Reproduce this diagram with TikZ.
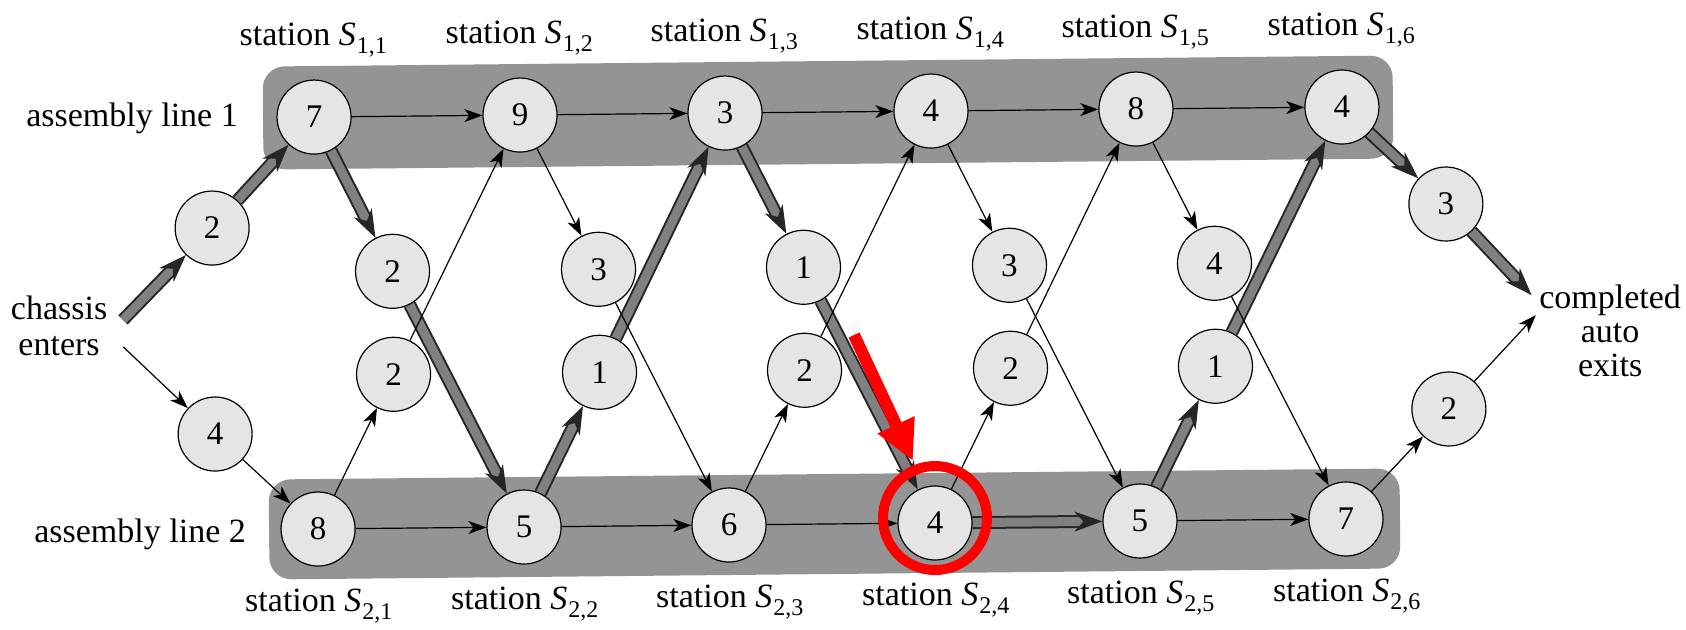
\documentclass[tikz,border=0pt]{standalone}
\usepackage{fontspec}
\setmainfont{Liberation Serif}
\usetikzlibrary{arrows.meta}
\pgfdeclarelayer{bg}
\pgfdeclarelayer{edges}
\pgfdeclarelayer{fg}
\pgfsetlayers{bg,edges,main,fg}
\newcommand{\stn}[2]{station \textit{S}\kern0.5pt\raisebox{-0.5ex}{\fontsize{12}{12}\selectfont #1,#2}}
\begin{document}
\begin{tikzpicture}[x=0.5pt,y=-0.5pt,
  num/.style={circle, draw, line width=0.6pt, fill=black!10, minimum size=37pt, inner sep=0pt, font=\rmfamily\fontsize{16.5}{18}\selectfont},
  lbl/.style={font=\rmfamily\fontsize{17}{20}\selectfont, inner sep=0pt},
  arr/.style={line width=0.6pt, -{Stealth[length=9pt,width=6.5pt,inset=2.5pt]}},
  fast/.style={draw=black!85, line width=1pt, double=black!50, double distance=4.5pt, -{Stealth[length=14pt,width=10pt]}},
  band/.style={fill=black!42, rounded corners=11pt}
]
\useasboundingbox (0,0) rectangle (1686,629);
\begin{scope}[rotate around={0.56:(831,318)}]
% stations line 1
\node[num] (a1) at (316,112) {7};
\node[num] (a2) at (522,112) {9};
\node[num] (a3) at (727,112) {3};
\node[num] (a4) at (933,112) {4};
\node[num] (a5) at (1138,112) {8};
\node[num] (a6) at (1344,112) {4};
% stations line 2
\node[num] (b1) at (316,524) {8};
\node[num] (b2) at (522,524) {5};
\node[num] (b3) at (727,524) {6};
\node[num] (b4) at (933,524) {4};
\node[num] (b5) at (1138,524) {5};
\node[num] (b6) at (1344,524) {7};
% transfers from line 1
\node[num] (u1) at (393,267) {2};
\node[num] (u2) at (599,267) {3};
\node[num] (u3) at (804,267) {1};
\node[num] (u4) at (1010,267) {3};
\node[num] (u5) at (1215,267) {4};
% transfers from line 2
\node[num] (d1) at (393,370) {2};
\node[num] (d2) at (599,370) {1};
\node[num] (d3) at (804,370) {2};
\node[num] (d4) at (1010,370) {2};
\node[num] (d5) at (1215,370) {1};
% entry / exit
\node[num] (e1) at (213,222) {2};
\node[num] (e2) at (214,428) {4};
\node[num] (x1) at (1447,210) {3};
\node[num] (x2) at (1448,415) {2};
% labels
\foreach \i/\x in {1/316,2/522,3/727,4/933,5/1138,6/1344}{
  \node[lbl] (t\i) at (\x,35) {\stn1\i};
  \node[lbl] (s\i) at (\x,601) {\stn2\i};
}
\node[lbl] (al1) at (134,112) {assembly line 1};
\node[lbl] (al2) at (138,528) {assembly line 2};
\node[lbl, align=center, font=\rmfamily\fontsize{17}{18}\selectfont] (ch) at (59,318) {chassis\\enters};
\node[lbl, align=center, font=\rmfamily\fontsize{17}{17}\selectfont] (done) at (1610,338) {completed\\auto\\exits};
\coordinate (c1) at (123,313);
\coordinate (c2) at (123,340);
\coordinate (o1) at (1532,302);
\coordinate (o2) at (1536,322);
\begin{pgfonlayer}{bg}
\fill[band] (265,61) rectangle (1395,164);
\fill[band] (267,474) rectangle (1398,574);
\end{pgfonlayer}
\begin{pgfonlayer}{edges}
% fastest path
\draw[fast] (c1) -- (e1);
\draw[fast] (e1) -- (a1);
\draw[fast] (a1) -- (u1);
\draw[fast] (u1) -- (b2);
\draw[fast] (b2) -- (d2);
\draw[fast] (d2) -- (a3);
\draw[fast] (a3) -- (u3);
\draw[fast] (u3) -- (b4);
\draw[fast] (b4) -- (b5);
\draw[fast] (b5) -- (d5);
\draw[fast] (d5) -- (a6);
\draw[fast] (a6) -- (x1);
\draw[fast] (x1) -- (o1);
% other arrows
\draw[arr] (c2) -- (e2);
\draw[arr] (e2) -- (b1);
\draw[arr] (a1) -- (a2);
\draw[arr] (a2) -- (a3);
\draw[arr] (a3) -- (a4);
\draw[arr] (a4) -- (a5);
\draw[arr] (a5) -- (a6);
\draw[arr] (b1) -- (b2);
\draw[arr] (b2) -- (b3);
\draw[arr] (b3) -- (b4);
\draw[arr] (b5) -- (b6);
\draw[arr] (b1) -- (d1);
\draw[arr] (d1) -- (a2);
\draw[arr] (a2) -- (u2);
\draw[arr] (u2) -- (b3);
\draw[arr] (b3) -- (d3);
\draw[arr] (d3) -- (a4);
\draw[arr] (a4) -- (u4);
\draw[arr] (u4) -- (b5);
\draw[arr] (b4) -- (d4);
\draw[arr] (d4) -- (a5);
\draw[arr] (a5) -- (u5);
\draw[arr] (u5) -- (b6);
\draw[arr] (b6) -- (x2);
\draw[arr] (x2) -- (o2);
\end{pgfonlayer}
\end{scope}
\begin{pgfonlayer}{fg}
\coordinate (ra) at (854,335);
\coordinate (rb) at (913,461);
\draw[red, line width=6pt, -{Triangle[length=20pt,width=19pt]}] (ra) -- (rb);
\node[circle, draw=red, line width=5pt, minimum size=52pt, inner sep=0pt] (rc) at (935,518) {};
\end{pgfonlayer}
\end{tikzpicture}
\end{document}
